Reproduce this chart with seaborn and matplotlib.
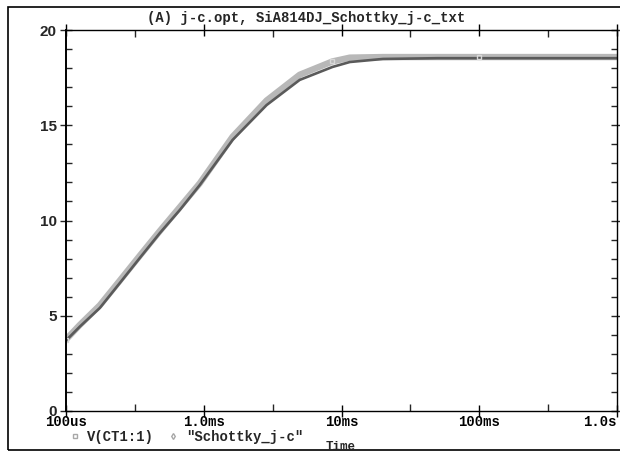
import numpy as np
import pandas as pd
import matplotlib
matplotlib.use("Agg")
import matplotlib.pyplot as plt
import seaborn as sns
from matplotlib.lines import Line2D
from matplotlib.patches import Rectangle
from matplotlib.ticker import FixedLocator, NullFormatter

# time axis in seconds
time_s = [1.00e-4, 1.26e-4, 1.76e-4, 2.46e-4, 3.43e-4, 4.80e-4, 6.70e-4, 9.35e-4,
          1.62e-3, 2.86e-3, 4.97e-3, 8.60e-3, 1.15e-2, 2.0e-2, 5.0e-2, 1.0e-1, 3.0e-1, 1.0]
v_ct1 = [3.70, 4.43, 5.41, 6.72, 8.03, 9.34, 10.55, 11.86,
         14.23, 16.06, 17.38, 18.06, 18.32, 18.48, 18.52, 18.52, 18.52, 18.52]
schottky = [3.75, 4.52, 5.55, 6.85, 8.15, 9.45, 10.70, 11.95,
            14.40, 16.30, 17.65, 18.35, 18.55, 18.58, 18.58, 18.58, 18.58, 18.58]

x_ticks = [1e-4, 1e-3, 1e-2, 1e-1, 1.0]
x_labels = ["100us", "1.0ms", "10ms", "100ms", "1.0s"]
y_ticks = [0, 5, 10, 15, 20]
title = "(A) j-c.opt, SiA814DJ_Schottky_j-c_txt"
series_names = ["V(CT1:1)", '"Schottky_j-c"']

df = pd.DataFrame({"time": time_s, "vct": v_ct1, "sch": schottky})

sns.set_style("white")
plt.rcParams["font.family"] = ["Liberation Mono", "DejaVu Sans"]

W, H = 620, 453
fig = plt.figure(figsize=(W / 100, H / 100), dpi=100)
ax = fig.add_axes([66 / W, 1 - 411 / H, (617 - 66) / W, (411 - 30) / H])

sns.lineplot(data=df, x="time", y="sch", ax=ax, color="#b8b8b8", linewidth=4.6,
             solid_capstyle="round", legend=False)
sns.lineplot(data=df, x="time", y="vct", ax=ax, color="#5a5a5a", linewidth=1.9,
             legend=False)
ax.plot(df["time"], df["sch"], ls="none", marker="s", ms=2.5, mfc="none",
        mec="#d8d8d8", markevery=[0, 11, 15])

ax.set_xscale("log")
ax.set_xlim(1e-4, 1.0)
ax.set_ylim(0, 20)
ax.set_xlabel("")
ax.set_ylabel("")

ax.set_xticks(x_ticks)
ax.set_xticklabels(x_labels, fontsize=10, fontweight="bold")
ax.xaxis.set_minor_locator(FixedLocator([10 ** -3.5, 10 ** -2.5, 10 ** -1.5, 10 ** -0.5]))
ax.xaxis.set_minor_formatter(NullFormatter())
ax.get_xticklabels()[-1].set_horizontalalignment("right")

ax.set_yticks(y_ticks)
ax.set_yticklabels([str(v) for v in y_ticks], fontsize=11, fontweight="bold",
                   family="Liberation Sans")
ax.yaxis.set_minor_locator(FixedLocator(list(range(1, 20))))

ax.tick_params(axis="x", which="major", direction="inout", length=9, width=1,
               top=True, bottom=True, pad=-1.5, colors="black")
ax.tick_params(axis="x", which="minor", direction="in", length=5, width=1,
               top=True, bottom=True)
ax.tick_params(axis="y", which="major", direction="inout", length=9, width=1,
               left=True, right=True, pad=2)
ax.tick_params(axis="y", which="minor", direction="in", length=4, width=1,
               left=True, right=True)
for s in ax.spines.values():
    s.set_color("black")
    s.set_linewidth(1.0)
ax.spines["left"].set_linewidth(1.4)

# outer frame of the probe window
fig.patches.append(Rectangle((8 / W, 1 - 450 / H), 1.2, (450 - 7) / H,
                             transform=fig.transFigure, fill=False,
                             edgecolor="black", linewidth=1.2))

fig.text(306 / W, 1 - 18 / H, title, ha="center", va="center",
         fontsize=10, fontweight="bold")
fig.text(341 / W, 1 - 447 / H, "Time", ha="center", va="center",
         fontsize=9, fontweight="bold")

handles = [Line2D([], [], ls="none", marker="s", ms=3, mfc="white", mec="#a8a8a8"),
           Line2D([], [], ls="none", marker="d", ms=3, mfc="white", mec="#a8a8a8")]
fig.legend(handles, series_names, loc="center left",
           bbox_to_anchor=(62 / W, 1 - 437 / H), ncol=2, frameon=False,
           handlelength=0.8, handletextpad=0.5, columnspacing=1.0,
           borderpad=0, prop={"family": "Liberation Mono", "weight": "bold", "size": 10})

fig.savefig("out.png", dpi=100)
